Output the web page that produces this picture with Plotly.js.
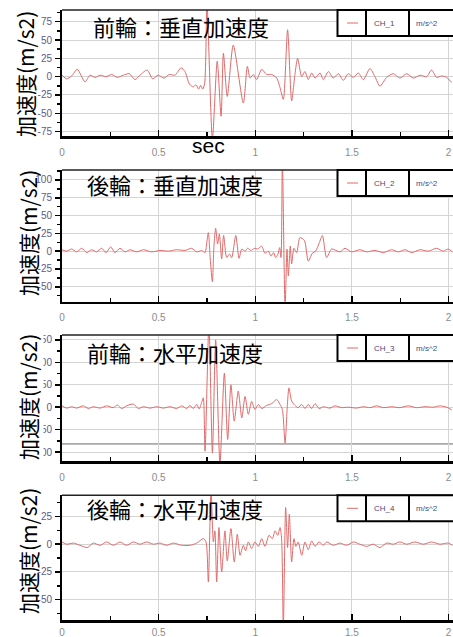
<!DOCTYPE html>
<html><head><meta charset="utf-8">
<script src="https://cdn.plot.ly/plotly-3.0.1.min.js"></script>
<style>html,body{margin:0;padding:0;background:#fff;overflow:hidden}#chart{width:453px;height:637px;}</style>
</head><body><div id="chart"></div>
<script>
// ---------------- data ----------------
const T1 = [0, 0.024, 0.05, 0.079, 0.119, 0.145, 0.171, 0.197, 0.228, 0.257,
  0.286, 0.317, 0.348, 0.378, 0.403, 0.441, 0.469, 0.498, 0.528, 0.555,
  0.584, 0.616, 0.636, 0.659, 0.679, 0.693, 0.707, 0.717, 0.728, 0.738,
  0.750, 0.778, 0.803, 0.823, 0.835, 0.855, 0.886, 0.938, 0.959, 0.973,
  0.990, 1.007, 1.033, 1.059, 1.085, 1.111, 1.128, 1.145, 1.167, 1.188,
  1.205, 1.219, 1.240, 1.257, 1.274, 1.292, 1.309, 1.335, 1.352, 1.378,
  1.403, 1.430, 1.455, 1.481, 1.507, 1.533, 1.559, 1.593, 1.619, 1.645,
  1.679, 1.714, 1.748, 1.783, 1.817, 1.852, 1.886, 1.912, 1.938, 1.964,
  1.990, 2.016];
const V1 = [2, -3, 1, 10, -7, 2, -1, 2, 0, 3,
  -1, 2, 4, -4, 2, 9, -3, 2, -2, 3,
  2, 12, 7, -10, -14, -11, -17, -12, -17, -9,
  100, -85, 21, -54, 32, -27, 43, -36, 14, -2,
  3, -4, 10, 3, 3, -2, -15, -31, 64, -33,
  3, 25, 0, 7, -4, 5, -2, 5, -4, 7,
  -2, 4, -5, 4, -1, 5, -4, 11, 0, -13,
  -1, 4, -2, 4, -2, 2, 0, 9, -1, 1,
  -1, -8];

const T2 = [0, 0.024, 0.05, 0.076, 0.102, 0.128, 0.153, 0.179, 0.205, 0.228,
  0.252, 0.274, 0.300, 0.326, 0.352, 0.386, 0.421, 0.464, 0.507, 0.550,
  0.593, 0.636, 0.671, 0.697, 0.722, 0.740, 0.748, 0.757, 0.767, 0.778,
  0.786, 0.795, 0.805, 0.814, 0.826, 0.836, 0.852, 0.866, 0.878, 0.899,
  0.916, 0.930, 0.947, 0.960, 0.978, 0.995, 1.012, 1.033, 1.050, 1.068,
  1.081, 1.095, 1.105, 1.116, 1.126, 1.133, 1.140, 1.154, 1.164, 1.171,
  1.181, 1.188, 1.200, 1.214, 1.231, 1.254, 1.274, 1.295, 1.312, 1.330,
  1.347, 1.369, 1.395, 1.438, 1.464, 1.498, 1.541, 1.576, 1.619, 1.662,
  1.705, 1.740, 1.774, 1.809, 1.852, 1.895, 1.938, 1.972, 1.998, 2.020];
const V2 = [2, 0, 3, -1, 4, -2, 2, -1, 4, -2,
  6, -2, 4, -1, 2, -1, 2, -1, 1, 0,
  2, 1, 4, -1, 1, -2, 10, 26, -11, -43,
  7, 32, 10, 24, -11, 22, -9, -4, -9, 22,
  -10, 3, 0, 4, 1, 4, 3, 7, -3, 0,
  -7, -2, -9, -5, 5, -9, 130, -80, 3, -35,
  7, -18, 4, -2, 19, 15, -14, -3, 0, 11,
  22, -9, 3, -1, 4, -1, 2, -1, 1, -2,
  2, -1, 2, -2, 2, 0, 4, 0, 3, -1];

const T3 = [0, 0.024, 0.05, 0.076, 0.110, 0.136, 0.162, 0.197, 0.231, 0.266,
  0.286, 0.309, 0.334, 0.369, 0.395, 0.421, 0.455, 0.490, 0.524, 0.559,
  0.593, 0.619, 0.645, 0.662, 0.679, 0.697, 0.710, 0.722, 0.731, 0.740,
  0.760, 0.778, 0.795, 0.817, 0.840, 0.857, 0.874, 0.891, 0.912, 0.930,
  0.947, 0.964, 0.981, 0.998, 1.016, 1.033, 1.059, 1.085, 1.111, 1.128,
  1.140, 1.154, 1.166, 1.174, 1.188, 1.205, 1.222, 1.240, 1.257, 1.274,
  1.292, 1.309, 1.330, 1.352, 1.386, 1.412, 1.447, 1.481, 1.524, 1.559,
  1.593, 1.628, 1.662, 1.705, 1.748, 1.791, 1.834, 1.878, 1.921, 1.955,
  1.990, 2.016];
const V3 = [3, -2, 1, -2, 3, -3, 1, -2, 3, -1,
  5, -3, 3, 7, -3, 1, -2, 1, -2, 1,
  -3, 3, -3, 4, -3, 6, -4, 10, 21, -98,
  185, -102, 150, -125, 76, -72, 50, -31, 36, -24,
  24, -16, 13, -5, 6, -3, 4, 8, 17, 6,
  -5, -80, 6, 43, 14, 4, -1, 6, -3, 6,
  -3, 8, -3, 1, -2, 3, -1, 0, -2, 1,
  -1, 3, -1, 1, -1, 3, -1, 1, 0, 3,
  0, -6];

const T4 = [0, 0.024, 0.059, 0.093, 0.131, 0.162, 0.197, 0.231, 0.266, 0.300,
  0.334, 0.369, 0.403, 0.438, 0.472, 0.507, 0.541, 0.576, 0.619, 0.662,
  0.697, 0.731, 0.745, 0.757, 0.771, 0.783, 0.791, 0.800, 0.812, 0.826,
  0.843, 0.855, 0.874, 0.891, 0.907, 0.921, 0.938, 0.950, 0.964, 0.981,
  0.998, 1.016, 1.033, 1.050, 1.071, 1.088, 1.102, 1.116, 1.128, 1.136,
  1.145, 1.157, 1.167, 1.176, 1.188, 1.200, 1.210, 1.222, 1.240, 1.257,
  1.274, 1.292, 1.309, 1.330, 1.352, 1.369, 1.403, 1.438, 1.472, 1.507,
  1.541, 1.576, 1.610, 1.645, 1.679, 1.714, 1.748, 1.783, 1.826, 1.869,
  1.912, 1.955, 1.998, 2.020];
const V4 = [2, 0, 1, -1, -3, 1, -1, 2, -1, 2,
  -1, 2, 0, 2, 0, 1, -1, 1, -1, -1,
  1, 5, 2, -34, 50, 2, 12, -34, 15, -25,
  12, -15, 14, -16, 9, -10, -1, -6, 2, -4,
  2, -2, 5, -2, 8, 5, 12, 8, 15, 5,
  -75, 33, -3, 27, -16, 5, -2, 2, -10, 2,
  -5, 3, -2, 2, -1, 2, -1, 1, -1, 2,
  0, -2, 0, -3, 1, 0, 2, 0, 2, 0,
  2, 0, 1, -1];

const PANEL_TITLES = ["前輪：垂直加速度", "後輪：垂直加速度", "前輪：水平加速度", "後輪：水平加速度"];
const CHANNELS = ["CH_1", "CH_2", "CH_3", "CH_4"];
const UNIT = "m/s^2";
const Y_TITLE = "加速度(m/s2)";
const X_TITLE = "sec";
const X_TICKS = [0, 0.5, 1, 1.5, 2];
const X_TICK_TEXT = ["0", "0.5", "1", "1.5", "2"];
const Y_TICKS_1 = [-75, -50, -25, 0, 25, 50, 75];
const Y_TICKS_2 = [-50, -25, 0, 25, 50, 75, 100];
const Y_TICKS_3 = [-100, -50, 0, 50, 100, 150];
const Y_TICKS_4 = [-50, -25, 0, 25];
const REF_LINE_3 = [-82];

// ---------------- layout helpers (positions / styles) ----------------
const W = 453, H = 637, L = 62;
const px2x = p => (p - L) / (W - L);
const py2y = p => 1 - p / H;
const LINE_COLOR = '#e26a6a';
const panels = [
  {t: T1, v: V1, ticks: Y_TICKS_1, range: [-81, 91], box: [10, 136], minor: 12.5, title: [91, 26], ytitle: [25, 74], mask: false, stand: 5},
  {t: T2, v: V2, ticks: Y_TICKS_2, range: [-71, 114], box: [170, 301.7], minor: 12.5, title: [85, 184], ytitle: [28, 233], mask: false, stand: 5},
  {t: T3, v: V3, ticks: Y_TICKS_3, range: [-120, 161], box: [335, 461], minor: 25, title: [85, 352], ytitle: [28, 397], mask: true, stand: 5},
  {t: T4, v: V4, ticks: Y_TICKS_4, range: [-68.5, 44], box: [495.3, 620.3], minor: 12.5, title: [85, 508], ytitle: [28, 551], mask: false, stand: 1}
];
const XMAX = (W - L) / 193.3;

const data = [];
const layout = {
  width: W, height: H, margin: {l: L, r: 0, t: 0, b: 0},
  paper_bgcolor: '#fff', plot_bgcolor: '#fff', showlegend: false,
  font: {family: 'Liberation Sans, Arial, sans-serif'},
  annotations: [], shapes: []
};
const cjk = '"Noto Sans CJK JP", "Noto Sans CJK SC", sans-serif';

panels.forEach((p, i) => {
  const n = i === 0 ? '' : String(i + 1);
  data.push({x: p.t, y: p.v, type: 'scatter', mode: 'lines', xaxis: 'x' + n, yaxis: 'y' + n,
    line: {color: LINE_COLOR, width: 1, shape: 'spline', smoothing: 0.7}, hoverinfo: 'skip'});
  const dom = [py2y(p.box[1]), py2y(p.box[0])];
  layout['xaxis' + n] = {
    domain: [0, 1], anchor: 'y' + n, range: [0, XMAX], tickmode: 'array', tickvals: X_TICKS, ticktext: X_TICK_TEXT,
    ticks: 'inside', ticklen: 6, tickwidth: 1.5, tickcolor: '#000', ticklabelstandoff: p.stand,
    showline: true, linecolor: '#000', linewidth: 2.5, showgrid: true, gridcolor: '#d4d4d4', gridwidth: 1,
    zeroline: false, tickfont: {size: 10, color: '#8c8c8c'},
    minor: {tickmode: 'linear', tick0: 0, dtick: 0.25, ticks: 'inside', ticklen: 4, tickcolor: '#000', showgrid: false}
  };
  layout['yaxis' + n] = {
    domain: dom, anchor: 'x' + n, range: p.range, tickmode: 'array', tickvals: p.ticks,
    ticktext: p.ticks.map(v => String(v)),
    ticks: 'outside', ticklen: 5, tickwidth: 1.5, tickcolor: '#000', ticklabelstandoff: 1,
    showline: true, linecolor: '#000', linewidth: 2, showgrid: true, gridcolor: '#d4d4d4', gridwidth: 1,
    zeroline: false, tickfont: {size: 10, color: '#5c5c8e'},
    minor: {tickmode: 'linear', tick0: 0, dtick: p.minor, ticks: 'outside', ticklen: 3, tickcolor: '#000', showgrid: false}
  };
  // top frame
  layout.shapes.push({type: 'line', xref: 'paper', yref: 'paper', x0: 0, x1: 1.05, y0: py2y(p.box[0]), y1: py2y(p.box[0]),
    line: {color: '#222', width: 1.5}, layer: 'above'});
  // legend box
  const top = p.box[0], bot = p.box[0] + 26, mid = p.box[0] + 13;
  layout.shapes.push({type: 'rect', xref: 'paper', yref: 'paper', x0: px2x(337.5), x1: px2x(470), y0: py2y(bot), y1: py2y(top),
    fillcolor: '#fff', line: {color: '#000', width: 2}, layer: 'above'});
  [366, 409].forEach(xx => layout.shapes.push({type: 'line', xref: 'paper', yref: 'paper', x0: px2x(xx), x1: px2x(xx),
    y0: py2y(bot), y1: py2y(top), line: {color: '#000', width: 2}, layer: 'above'}));
  layout.shapes.push({type: 'line', xref: 'paper', yref: 'paper', x0: px2x(347), x1: px2x(358), y0: py2y(mid), y1: py2y(mid),
    line: {color: LINE_COLOR, width: 1}, layer: 'above'});
  layout.annotations.push({xref: 'paper', yref: 'paper', x: px2x(384), y: py2y(mid + 0.5), text: CHANNELS[i], showarrow: false,
    xanchor: 'center', yanchor: 'middle', font: {size: 8, color: '#4a4a7a'}});
  layout.annotations.push({xref: 'paper', yref: 'paper', x: px2x(427), y: py2y(mid + 0.5), text: UNIT, showarrow: false,
    xanchor: 'center', yanchor: 'middle', font: {size: 8, color: '#4a4a7a'}});
  // panel title
  layout.annotations.push({xref: 'paper', yref: 'paper', x: px2x(p.title[0]), y: py2y(p.title[1]), text: PANEL_TITLES[i],
    showarrow: false, xanchor: 'left', yanchor: 'middle', font: {family: cjk, size: 22, color: '#000'}});
  // y title
  const yt = {xref: 'paper', yref: 'paper', x: px2x(p.ytitle[0]), y: py2y(p.ytitle[1]), text: Y_TITLE,
    showarrow: false, textangle: -90, xanchor: 'center', yanchor: 'middle', borderpad: 0,
    font: {family: cjk, size: 21, color: '#000'}};
  if (p.mask) yt.bgcolor = '#fff';
  layout.annotations.push(yt);
});

// darker reference line in panel 3
layout.shapes.push({type: 'line', xref: 'x3 domain', yref: 'y3', x0: 0, x1: 1, y0: REF_LINE_3[0], y1: REF_LINE_3[0],
  line: {color: '#6a6a6a', width: 1}, layer: 'below'});
// x title "sec" (drawn under first panel)
layout.annotations.push({xref: 'paper', yref: 'paper', x: px2x(208), y: py2y(146), text: X_TITLE, showarrow: false,
  xanchor: 'center', yanchor: 'middle', font: {size: 21, color: '#000'}});

Plotly.newPlot('chart', data, layout, {staticPlot: true, displayModeBar: false});
</script></body></html>
